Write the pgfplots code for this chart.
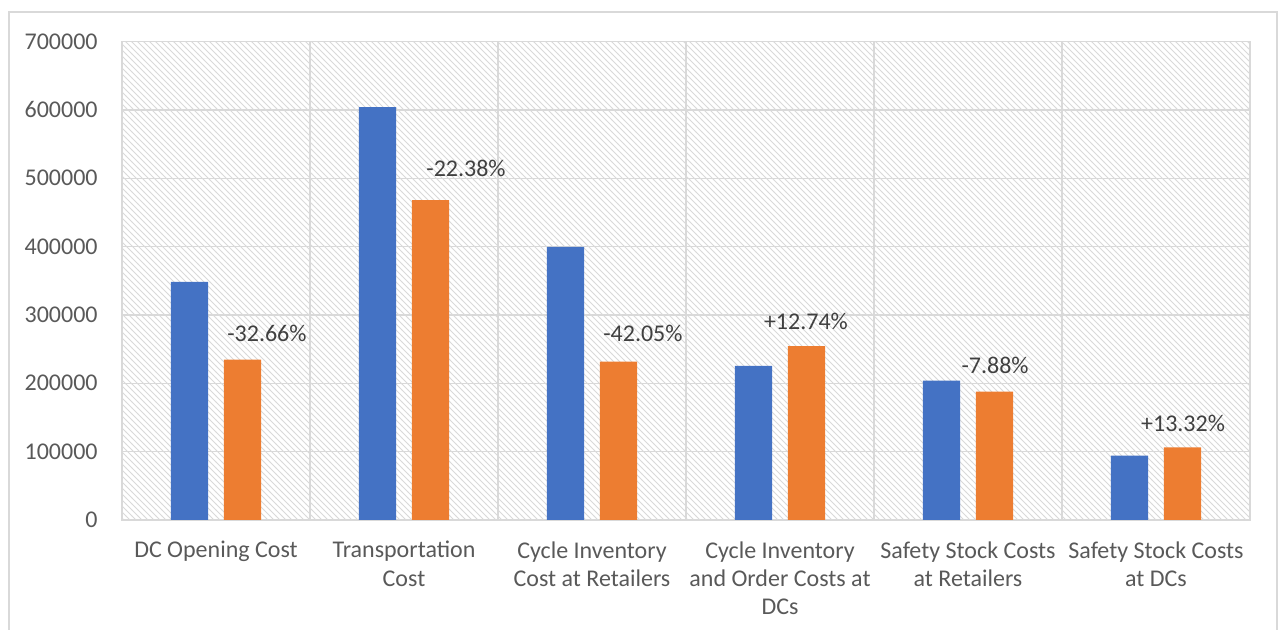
\documentclass[border=0pt]{standalone}
\usepackage{pgfplots}
\pgfplotsset{compat=1.18}
\usepackage{fontspec}
\setmainfont{Carlito}
\usetikzlibrary{patterns}
\definecolor{cblue}{HTML}{4472C4}
\definecolor{corange}{HTML}{ED7D31}
\definecolor{gridc}{HTML}{D9D9D9}
\definecolor{txt}{HTML}{595959}
\definecolor{lbl}{HTML}{404040}
\begin{document}
\begin{tikzpicture}[x=1pt,y=1pt]
\begin{axis}[
  at={(61pt,55pt)}, anchor=south west,
  scale only axis, width=564pt, height=239.25pt,
  xmin=-0.5, xmax=5.5, ymin=0, ymax=700000,
  ytick={0,100000,200000,300000,400000,500000,600000,700000},
  xtick={0,1,2,3,4,5},
  xticklabels={{DC Opening Cost},{Transportation\\Cost},{Cycle Inventory\\Cost at Retailers},{Cycle Inventory\\and Order Costs at\\DCs},{Safety Stock Costs\\at Retailers},{Safety Stock Costs\\at DCs}},
  minor xtick={0.5,1.5,2.5,3.5,4.5},
  xminorgrids=true, ymajorgrids=true,
  grid style={gridc, line width=0.7pt},
  minor grid style={gridc, line width=0.7pt},
  axis line style={gridc, line width=0.7pt},
  major tick length=0pt, minor tick length=0pt,
  tick style={draw=none},
  scaled y ticks=false,
  /pgf/number format/fixed,
  /pgf/number format/1000 sep={},
  /pgf/number format/assume math mode=true,
  axis background/.style={pattern=north west lines, pattern color=gridc},
  yticklabel style={font=\fontsize{12}{14}\selectfont, text=txt, inner sep=0pt, xshift=-12pt},
  xticklabel style={align=center, font=\fontsize{12}{14.1}\selectfont, text=txt, inner sep=0pt, yshift=-10.5pt},
  clip=false,
]
\addplot[ybar, bar width=0.197, bar shift=-0.141, fill=cblue, draw=none]
  coordinates {(0,348200) (1,604100) (2,399400) (3,225300) (4,203800) (5,94100)};
\addplot[ybar, bar width=0.197, bar shift=0.141, fill=corange, draw=none]
  coordinates {(0,234600) (1,468100) (2,231600) (3,254500) (4,187700) (5,106300)};
\node[font=\fontsize{12}{14}\selectfont, text=lbl] at (axis cs:0.271,273500) {-32.66\%};
\node[font=\fontsize{12}{14}\selectfont, text=lbl] at (axis cs:1.330,514900) {-22.38\%};
\node[font=\fontsize{12}{14}\selectfont, text=lbl] at (axis cs:2.271,272400) {-42.05\%};
\node[font=\fontsize{12}{14}\selectfont, text=lbl] at (axis cs:3.138,289900) {+12.74\%};
\node[font=\fontsize{12}{14}\selectfont, text=lbl] at (axis cs:4.144,225500) {-7.88\%};
\node[font=\fontsize{12}{14}\selectfont, text=lbl] at (axis cs:5.144,142000) {+13.32\%};
\end{axis}
\draw[gridc, line width=0.7pt] (4.5,-5) rectangle (638.5,309);
\pgfresetboundingbox
\useasboundingbox (0,0) rectangle (640.5,315);
\end{tikzpicture}
\end{document}
